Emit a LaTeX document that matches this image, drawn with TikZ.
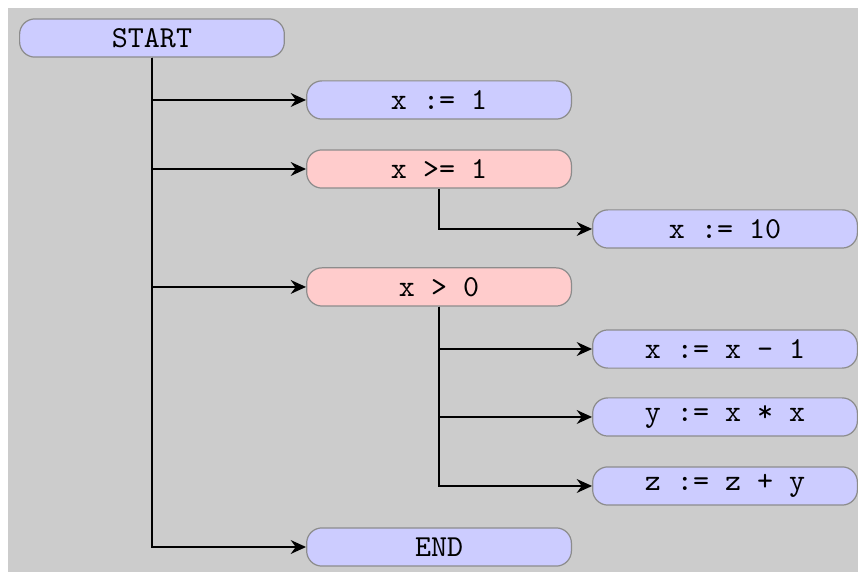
\documentclass[tikz,border=0pt]{standalone}
\usetikzlibrary{arrows.meta}

\tikzset{
  stmt/.style={draw=black!45, fill=blue!20, rounded corners=5pt,
    minimum width=3.05cm, minimum height=0.44cm, inner sep=0pt,
    font=\ttfamily},
  cond/.style={stmt, fill=red!20},
  flow/.style={thick, -{Stealth[length=5pt,width=4.5pt]}}
}

\begin{document}
\begin{tikzpicture}
    % page and grey background
    \useasboundingbox (0,0) rectangle (9.885,-6.59);
    \fill[black!20] (0.092,-0.092) rectangle (9.885,-6.59);

    \node[stmt] (start) at (1.751,-0.438) {START};
    \node[stmt] (xinit) at (5.058,-1.152) {x := 1};
    \node[cond] (xge)   at (5.058,-1.947) {x >= 1};
    \node[stmt] (xten)  at (8.353,-2.638) {x := 10};
    \node[cond] (xgt)   at (5.058,-3.306) {x > 0};
    \node[stmt] (xdec)  at (8.353,-4.021) {x := x - 1};
    \node[stmt] (ysq)   at (8.353,-4.804) {y := x * x};
    \node[stmt] (zadd)  at (8.353,-5.599) {z := z + y};
    \node[stmt] (stop)  at (5.058,-6.302) {END};

    % main sequence
    \draw[flow] (start.south) |- (xinit.west);
    \draw[flow] (start.south) |- (xge.west);
    \draw[flow] (start.south) |- (xgt.west);
    \draw[flow] (start.south) |- (stop.west);

    % branch of the if
    \draw[flow] (xge.south) |- (xten.west);

    % loop body
    \draw[flow] (xgt.south) |- (xdec.west);
    \draw[flow] (xgt.south) |- (ysq.west);
    \draw[flow] (xgt.south) |- (zadd.west);
\end{tikzpicture}
\end{document}
